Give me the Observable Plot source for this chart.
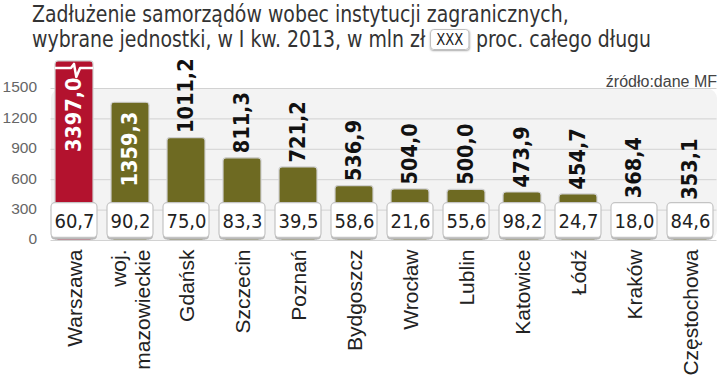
<!DOCTYPE html>
<html>
<head>
<meta charset="utf-8">
<script src="https://cdn.jsdelivr.net/npm/d3@7"></script>
<script src="https://cdn.jsdelivr.net/npm/@observablehq/plot@0.6"></script>
<style>
  body { margin:0; background:#fff; width:720px; height:378px; overflow:hidden; }
  #title { height:56px; box-sizing:border-box; padding:2px 0 0 32px; font-family:'Liberation Sans Narrow','DejaVu Sans Condensed','Roboto',sans-serif; font-size:23px; line-height:25px; color:#333; white-space:nowrap; transform:scaleX(0.913); transform-origin:32px 0; }
  .xbox { display:inline-block; font-size:16px; line-height:19px; padding:0 6px; margin:0 7px 0 5px; border:1.5px solid #bdbdbd; border-radius:4px; box-shadow:0 1px 2px #aaa; vertical-align:2px; color:#222; }
  svg { display:block; }
</style>
</head>
<body>
<div id="title">Zadłużenie samorządów wobec instytucji zagranicznych,<br>wybrane jednostki, w I kw. 2013, w mln zł<span class="xbox">XXX</span>proc. całego długu</div>
<div id="chart"></div>
<script>
const cities = ["Warszawa","woj. mazowieckie","Gdańsk","Szczecin","Poznań","Bydgoszcz","Wrocław","Lublin","Katowice","Łódź","Kraków","Częstochowa"];
const cityLabels = ["Warszawa","woj.\nmazowieckie","Gdańsk","Szczecin","Poznań","Bydgoszcz","Wrocław","Lublin","Katowice","Łódź","Kraków","Częstochowa"];
const debt = [3397.0,1359.3,1011.2,811.3,721.2,536.9,504.0,500.0,473.9,454.7,368.4,353.1];
const share = [60.7,90.2,75.0,83.3,39.5,58.6,21.6,55.6,98.2,24.7,18.0,84.6];
const yTicks = [0,300,600,900,1200,1500];
const highlight = "Warszawa";
const source = "źródło:dane MF";

// axis break for the off-scale bar
const breakTop = 1767;
const breakLine = 1698;
const insideThreshold = 1200;
const boxBottom = 25;
const boxTop = 368;

const fmt = v => d3.format(".1f")(v).replace(".", ",");
const data = cities.map((c, i) => ({
  city: c, label: cityLabels[i], debt: debt[i], share: share[i],
  shown: Math.min(debt[i], breakTop)
}));

const condFont = "'DejaVu Sans Condensed','Liberation Sans Narrow','Roboto',sans-serif";
const barInset = 9;

function breakMark(index, scales, values, dimensions) {
  const g = d3.create("svg:g");
  data.filter(d => d.debt > breakTop).forEach(d => {
    const x0 = scales.x(d.city) + barInset;
    const w = scales.x.bandwidth() - 2 * barInset;
    const y = scales.y(breakLine);
    g.append("path")
      .attr("d", `M${x0},${y}H${x0 + w * 0.42}L${x0 + w * 0.5},${y - 4}L${x0 + w * 0.56},${y + 9}L${x0 + w * 0.66},${y}H${x0 + w}`)
      .attr("fill", "none").attr("stroke", "white").attr("stroke-width", 2.5).attr("stroke-linejoin", "round");
  });
  return g.node();
}

const chart = Plot.plot({
  width: 720, height: 322,
  marginLeft: 45.5, marginRight: 1.5, marginTop: 32, marginBottom: 138,
  x: { domain: cities, padding: 0, axis: null },
  y: { domain: [0, 1500], axis: null },
  style: { background: "transparent", fontFamily: "'Liberation Sans',Arial,sans-serif" },
  marks: [
    Plot.frame({ fill: "#f3f3f3", stroke: null, rx: 10, insetLeft: 5, insetRight: 2 }),
    Plot.gridY(yTicks, { stroke: "#d2d2d2", strokeOpacity: 1, insetLeft: 5, insetRight: 2 }),
    Plot.axisY(yTicks, { tickSize: 0, tickPadding: 9, fontSize: 15.5, fill: "#666", label: null, dy: -1, tickFormat: d => String(d) }),
    Plot.barY(data, {
      x: "city", y: "shown",
      fill: d => d.city === highlight ? "#b3122e" : "#6e6a22",
      stroke: "#d0d0d0", strokeWidth: 1.2,
      insetLeft: barInset, insetRight: barInset, rx: 3
    }),
    breakMark,
    Plot.barY(data, { x: "city", y1: boxBottom, y2: boxTop, fill: "#b8b8b8", insetLeft: 5, insetRight: 5, rx: 4, dy: 2 }),
    Plot.barY(data, { x: "city", y1: boxBottom, y2: boxTop, fill: "white", stroke: "#c4c4c4", strokeWidth: 1.2, insetLeft: 5, insetRight: 5, rx: 4 }),
    Plot.text(data, { x: "city", y: (boxBottom + boxTop) / 2, text: d => fmt(d.share), fontSize: 20, fill: "#222", fontFamily: condFont, dy: 1 }),
    Plot.text(data.filter(d => d.debt <= insideThreshold), {
      x: "city", y: "debt", text: d => fmt(d.debt), rotate: -90, textAnchor: "start",
      dy: -5, fontSize: 21.5, fontWeight: "bold", fill: "#111", fontFamily: condFont
    }),
    Plot.text(data.filter(d => d.debt > insideThreshold), {
      x: "city", y: d => d.debt > breakTop ? breakLine : d.debt, text: d => fmt(d.debt), rotate: -90, textAnchor: "end",
      dy: 9, fontSize: 21.5, fontWeight: "bold", fill: "white", fontFamily: condFont
    }),
    Plot.text(data, {
      x: "city", frameAnchor: "bottom", text: "label", rotate: -90, textAnchor: "end",
      lineAnchor: "middle", lineHeight: 1.15, dy: 9, fontSize: 21, fill: "#222"
    }),
    Plot.text([source], { frameAnchor: "top-right", text: d => d, lineAnchor: "bottom", dx: -2, dy: -2, fontSize: 16, fill: "#444" })
  ]
});
document.getElementById("chart").appendChild(chart);
</script>
</body>
</html>
